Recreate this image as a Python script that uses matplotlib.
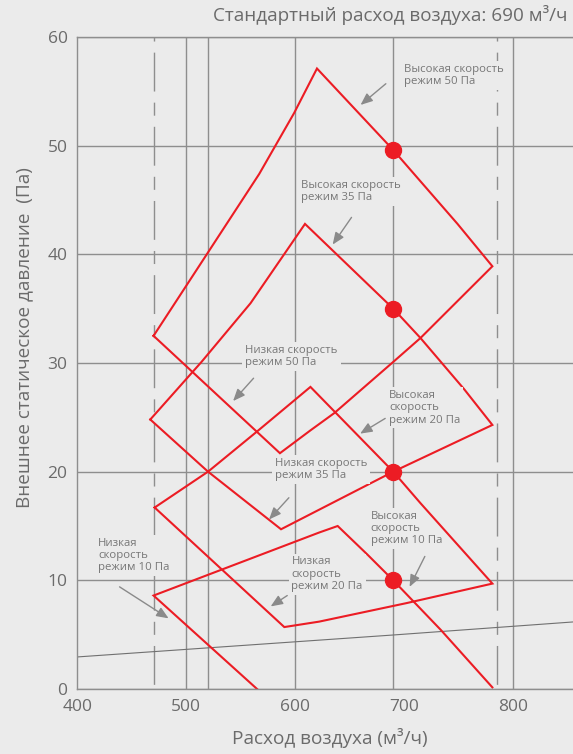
import matplotlib
matplotlib.use("Agg")
import matplotlib.pyplot as plt

plt.rcParams["font.family"] = ["Open Sans", "DejaVu Sans"]

# values: air flow (m3/h) vs external static pressure (Pa)
mode50_x = [470, 567, 599, 620, 690, 749, 781, 715, 690, 636, 614, 586, 470]
mode50_y = [32.5, 47.4, 53.0, 57.1, 49.6, 42.8, 38.9, 32.3, 30.1, 25.4, 23.8, 21.7, 32.5]

mode35_x = [467, 514, 559, 609, 690, 715, 755, 781, 690, 587, 520, 467]
mode35_y = [24.8, 30.1, 35.5, 42.8, 35.0, 32.3, 27.6, 24.3, 20.0, 14.7, 20.0, 24.8]

mode20_x = [471, 520, 565, 614, 690, 715, 781, 702, 622, 590, 471]
mode20_y = [16.7, 20.0, 23.7, 27.8, 20.0, 17.1, 9.7, 7.9, 6.2, 5.7, 16.7]

mode10_x = [565, 470, 622, 639, 666, 690, 734, 781]
mode10_y = [0.0, 8.6, 14.4, 15.0, 12.4, 10.0, 5.4, 0.15]

system_x = [400, 690, 855]
system_y = [2.95, 4.97, 6.17]

point_x = [690, 690, 690, 690]
point_y = [49.6, 35.0, 20.0, 10.0]

x_ticks = [400, 500, 600, 700, 800]
y_ticks = [0, 10, 20, 30, 40, 50, 60]
solid_lines = [500, 520, 600, 690, 800]
dashed_lines = [470, 785]

labels = [
    "Высокая скорость\nрежим 50 Па",
    "Высокая скорость\nрежим 35 Па",
    "Низкая скорость\nрежим 50 Па",
    "Высокая\nскорость\nрежим 20 Па",
    "Низкая скорость\nрежим 35 Па",
    "Высокая\nскорость\nрежим 10 Па",
    "Низкая\nскорость\nрежим 20 Па",
    "Низкая\nскорость\nрежим 10 Па",
]
label_pos = [(700, 57.5), (605.3, 46.85), (554.2, 31.7), (686.1, 27.5),
             (581.2, 21.3), (669.4, 16.4), (596.6, 12.2), (419, 13.9)]
arrow_tail = [(683.2, 55.7), (651.7, 43.4), (561.8, 28.6), (682.6, 24.9),
              (594.2, 17.6), (719, 12.2), (592.7, 8.6), (438.8, 9.4)]
arrow_head = [(660, 53.75), (634.4, 40.9), (543, 26.5), (659.6, 23.5),
              (576, 15.6), (705, 9.4), (577.5, 7.6), (483.8, 6.5)]

BG = "#ebebeb"
GRID = "#8e8e8e"
RED = "#ec1c24"
TXT = "#6b6b6b"
NOTE = "#777777"

fig = plt.figure(figsize=(5.73, 7.54), dpi=100, facecolor=BG)
ax = fig.add_axes([77.3 / 573, 65 / 754, 1 - 77.3 / 573, 652 / 754])
ax.set_facecolor(BG)
ax.set_xlim(400, 855)
ax.set_ylim(0, 60)

ax.set_xticks(x_ticks)
ax.set_yticks(y_ticks)
ax.tick_params(length=0, labelsize=12.5, labelcolor=TXT, pad=7)
ax.grid(axis="y", color=GRID, lw=1.0)
ax.set_axisbelow(True)
for side in ["left", "bottom", "top"]:
    ax.spines[side].set_color(GRID)
    ax.spines[side].set_linewidth(1.0)
ax.spines["right"].set_visible(False)

for v in solid_lines:
    ax.axvline(v, color=GRID, lw=1.0, zorder=1)
for v in dashed_lines:
    ax.plot([v, v], [60, 0], color=GRID, lw=1.0, zorder=1,
            ls=(6.5, (9.4, 8, 28, 8)))

ax.plot(system_x, system_y, color="#707070", lw=0.8, zorder=2)
# label boxes mask the lines under them, except the 20 Pa outline
for xs, ys, z in [(mode50_x, mode50_y, 2), (mode35_x, mode35_y, 2),
                  (mode20_x, mode20_y, 3.5), (mode10_x, mode10_y, 2)]:
    ax.plot(xs, ys, color=RED, lw=1.5, zorder=z, solid_joinstyle="miter")

for text, pos, tail, head in zip(labels, label_pos, arrow_tail, arrow_head):
    ax.text(pos[0], pos[1], text, fontsize=8.2, color=NOTE, ha="left", va="top",
            linespacing=1.15, zorder=3,
            bbox=dict(boxstyle="square,pad=0.25", fc=BG, ec="none"))
    ax.annotate("", xy=head, xytext=tail, zorder=4,
                arrowprops=dict(arrowstyle="-|>,head_length=0.6,head_width=0.25",
                                color="#8a8a8a", lw=1.0, shrinkA=0, shrinkB=0,
                                mutation_scale=12))

ax.plot(point_x, point_y, "o", ms=11.5, color=RED, zorder=5)

ax.set_xlabel("Расход воздуха (м³/ч)", fontsize=13.7, color=TXT)
ax.xaxis.set_label_coords(0.51, -0.06)
ax.set_ylabel("Внешнее статическое давление  (Па)", fontsize=13.7, color=TXT)
ax.yaxis.set_label_coords(-0.089, 0.539)

fig.text(213 / 573, 1 - 21 / 754, "Стандартный расход воздуха: 690 м³/ч",
         fontsize=13.6, color=TXT, ha="left", va="baseline")

fig.savefig("out.png", dpi=100, facecolor=BG)
